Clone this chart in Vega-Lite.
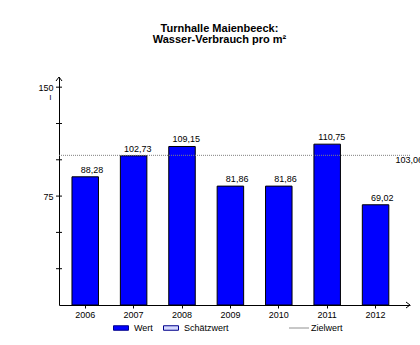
{
  "$schema": "https://vega.github.io/schema/vega-lite/v6.json",
  "width": 351,
  "height": 228,
  "autosize": "none",
  "padding": {"left": 59, "top": 77, "right": 10, "bottom": 40},
  "background": "white",
  "config": {
    "font": "Liberation Sans",
    "view": {"stroke": null},
    "locale": {"number": {"decimal": ",", "thousands": ".", "grouping": [3], "currency": ["", " €"]}}
  },
  "title": {
    "text": ["Turnhalle Maienbeeck:", "Wasser-Verbrauch pro m²"],
    "fontSize": 11,
    "fontWeight": "bold",
    "color": "black",
    "anchor": "middle",
    "dx": -15,
    "offset": 30,
    "lineHeight": 11
  },
  "datasets": {
    "werte": [
      {"Jahr": "2006", "Wert": 88.28},
      {"Jahr": "2007", "Wert": 102.73},
      {"Jahr": "2008", "Wert": 109.15},
      {"Jahr": "2009", "Wert": 81.86},
      {"Jahr": "2010", "Wert": 81.86},
      {"Jahr": "2011", "Wert": 110.75},
      {"Jahr": "2012", "Wert": 69.02}
    ],
    "ziel": [{"Ziel": 103.06}],
    "ticks": [{"v": 25}, {"v": 50}, {"v": 75}, {"v": 100}, {"v": 125}, {"v": 150}],
    "pfeile": [{"ax": 0, "ay": 157, "dir": "oben"}, {"ax": 1, "ay": 0, "dir": "rechts"}]
  },
  "layer": [
    {
      "layer": [
        {
          "data": {"name": "werte"},
          "mark": {"type": "bar", "stroke": "black", "strokeWidth": 1},
          "encoding": {
            "x": {
              "field": "Jahr", "type": "nominal",
              "scale": {"paddingInner": 0.4525, "paddingOuter": 0.353, "align": 0.38},
              "axis": {
                "title": null, "labelAngle": 0, "labelFontSize": 9, "labelColor": "black",
                "labelPadding": 2, "tickSize": 3, "tickColor": "black", "domainColor": "black"
              }
            },
            "y": {
              "field": "Wert", "type": "quantitative",
              "scale": {"domain": [0, 157], "nice": false},
              "axis": {
                "values": [75, 150], "ticks": false, "tickSize": 0, "grid": false,
                "labelFontSize": 9, "labelColor": "black", "labelPadding": 6,
                "domainColor": "black",
                "title": "l", "titleAngle": 0, "titleX": -9, "titleY": 20,
                "titleAlign": "center", "titleBaseline": "middle",
                "titleFontSize": 8, "titleFontWeight": "normal", "titleColor": "black"
              }
            },
            "fill": {
              "datum": "Wert",
              "scale": {"domain": ["Wert", "Schätzwert"], "range": ["#0000ff", "#d4d8ff"]},
              "legend": {
                "title": null, "orient": "none", "legendX": 54, "legendY": 243,
                "direction": "horizontal", "padding": 0,
                "symbolType": "M-1,-0.3H1V0.3H-1Z", "symbolSize": 225,
                "symbolStrokeColor": "#00008b", "symbolStrokeWidth": 1,
                "labelFontSize": 9, "labelColor": "black", "labelOffset": 5, "columnPadding": 8
              }
            }
          }
        },
        {
          "data": {"name": "werte"},
          "mark": {"type": "text", "align": "right", "baseline": "bottom", "dx": 18, "dy": -2, "fontSize": 9, "color": "black"},
          "encoding": {
            "x": {"field": "Jahr", "type": "nominal"},
            "y": {"field": "Wert", "type": "quantitative"},
            "text": {"field": "Wert", "type": "quantitative", "format": ".2f"}
          }
        },
        {
          "data": {"name": "ziel"},
          "mark": {"type": "rule", "color": "#808080", "strokeWidth": 1},
          "encoding": {
            "y": {"field": "Ziel", "type": "quantitative"},
            "strokeDash": {
              "datum": "Zielwert",
              "scale": {"domain": ["Zielwert"], "range": [[1, 1]]},
              "legend": {
                "title": null, "orient": "none", "legendX": 230, "legendY": 241,
                "padding": 0, "symbolType": "stroke", "symbolSize": 361,
                "symbolStrokeColor": "#000000", "symbolDash": [2, 1], "symbolStrokeWidth": 1,
                "labelFontSize": 9, "labelColor": "black", "labelOffset": 2,
                "encode": {"symbols": {"update": {"stroke": {"value": "#222222"}, "strokeDash": {"value": [2, 1]}}}}
              }
            }
          }
        },
        {
          "data": {"name": "ziel"},
          "mark": {"type": "text", "align": "left", "baseline": "top", "dx": 20, "dy": 1, "fontSize": 9, "color": "black"},
          "encoding": {
            "x": {"datum": "2012", "type": "nominal"},
            "y": {"field": "Ziel", "type": "quantitative"},
            "text": {"field": "Ziel", "type": "quantitative", "format": ".2f"}
          }
        }
      ]
    },
    {
      "layer": [
        {
          "data": {"name": "ticks"},
          "mark": {"type": "tick", "orient": "horizontal", "size": 6, "thickness": 1, "color": "black", "opacity": 1},
          "encoding": {
            "x": {"datum": 0, "type": "quantitative", "scale": {"domain": [0, 1], "nice": false, "zero": false}, "axis": null},
            "y": {"field": "v", "type": "quantitative"}
          }
        },
        {
          "data": {"name": "pfeile"},
          "mark": {"type": "point", "filled": false, "stroke": "black", "strokeWidth": 1, "size": 64, "opacity": 1},
          "encoding": {
            "x": {"field": "ax", "type": "quantitative", "axis": null},
            "y": {"field": "ay", "type": "quantitative"},
            "shape": {
              "field": "dir", "type": "nominal",
              "scale": {"domain": ["oben", "rechts"], "range": ["M-0.75,1L0,0L0.75,1", "M-1,-0.75L0,0L-1,0.75"]},
              "legend": null
            }
          }
        }
      ]
    }
  ],
  "resolve": {"scale": {"x": "independent"}}
}
